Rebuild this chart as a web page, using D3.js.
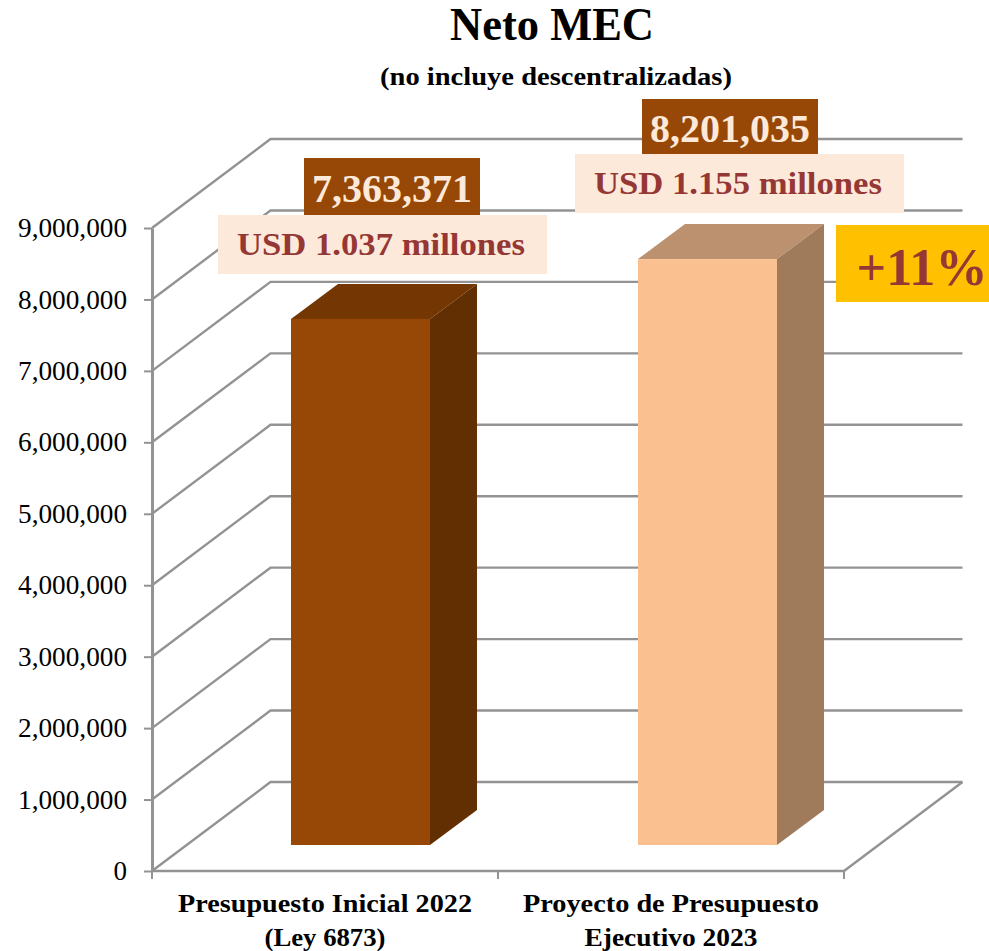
<!DOCTYPE html>
<html><head><meta charset="utf-8">
<script src="https://cdn.jsdelivr.net/npm/d3@7"></script>
<style>html,body{margin:0;padding:0;background:#fff}svg{display:block}text{font-family:"Liberation Serif",serif}</style>
</head><body><div id="c"></div>
<script>
const categories = [["Presupuesto Inicial 2022","(Ley 6873)"],["Proyecto de Presupuesto","Ejecutivo 2023"]];
const values = [7363371, 8201035];
const usdLabels = ["USD 1.037 millones","USD 1.155 millones"];
const valueLabels = ["7,363,371","8,201,035"];
const tickValues = [0,1e6,2e6,3e6,4e6,5e6,6e6,7e6,8e6,9e6];
const colors = [{front:"#974706",top:"#743602",side:"#622f03"},{front:"#fac090",top:"#bc916f",side:"#a07b5b"}];

const W=989,H=951;
const svg=d3.select("#c").append("svg").attr("width",W).attr("height",H);
const y=d3.scaleLinear().domain([0,9e6]).range([871,228]);
const x=d3.scaleBand().domain([0,1]).range([152,844]);
const barX=d3.scaleBand().domain([0,1]).range([152,846]);
const depthX=118.5, depthY=89, grey="#939393";

// grid: left wall diagonals + back wall, plus the floor's front edge
const g=svg.append("g");
const strokeLine=pts=>g.append("path").attr("d",d3.line()(pts)).attr("fill","none")
  .attr("stroke",grey).attr("stroke-width",2.4).attr("stroke-linejoin","miter");
tickValues.forEach(v=>{
  strokeLine([[152,y(v)],[152+depthX,y(v)-depthY],[844+depthX,y(v)-depthY]]);
});
strokeLine([[152,y(0)],[844,y(0)],[844+depthX,y(0)-depthY]]);

// y axis
const ya=svg.append("g").attr("transform","translate(152,0)").call(d3.axisLeft(y).tickValues(tickValues).tickFormat(d3.format(",")).tickSize(8).tickSizeOuter(0));
ya.select(".domain").attr("stroke",grey).attr("stroke-width",3);
ya.selectAll(".tick line").attr("stroke",grey).attr("stroke-width",2);
ya.selectAll(".tick text").attr("fill","#000").style("font-size","27px").attr("x",-25).attr("dy","0.32em")
  .each(function(d){ if(d) d3.select(this).attr("textLength",109).attr("lengthAdjust","spacingAndGlyphs"); });
// x axis ticks
svg.append("g").selectAll("line").data([152,498,844]).join("line")
  .attr("x1",d=>d).attr("x2",d=>d).attr("y1",871).attr("y2",879).attr("stroke",grey).attr("stroke-width",2);

// bars
const barW=139, baseOffX=35, baseOffY=26, bDX=47, bDY=35;
const bars=svg.append("g").selectAll("g").data(values).join("g");
bars.each(function(v,i){
  const s=d3.select(this), x0=barX(i)+barX.bandwidth()/2+baseOffX-barW/2, x1=x0+barW;
  const yb=y(0)-baseOffY, yt=y(v)-baseOffY, c=colors[i];
  s.append("polygon").attr("fill",c.top).attr("points",[[x0,yt],[x1,yt],[x1+bDX,yt-bDY],[x0+bDX,yt-bDY]].join(" "));
  s.append("polygon").attr("fill",c.side).attr("points",[[x1,yt],[x1+bDX,yt-bDY],[x1+bDX,yb-bDY],[x1,yb]].join(" "));
  s.append("rect").attr("x",x0).attr("y",yt).attr("width",barW).attr("height",yb-yt).attr("fill",c.front);
});

function label(t,cx,base,size,fill,len){
  const e=svg.append("text").text(t).attr("x",cx).attr("y",base).attr("text-anchor","middle")
    .attr("font-weight","bold").attr("font-size",size).attr("fill",fill);
  if(len) e.attr("textLength",len).attr("lengthAdjust","spacingAndGlyphs");
  return e;
}
// titles
label("Neto MEC",552,40,46,"#000",204);
label("(no incluye descentralizadas)",556,85,25,"#000",352);

// category labels
const catLens=[[294,121],[296,173]];
categories.forEach((ls,i)=>ls.forEach((l,j)=>
  label(l,x(i)+x.bandwidth()/2,912+j*34,26,"#000",catLens[i][j])));

// annotation boxes
const vBoxes=[[304,158,176,57,202],[642,99,176,55,142]];
const uBoxes=[[218,215,329,59],[575,154,329,59]];
values.forEach((v,i)=>{
  const [a,b,c,d]=uBoxes[i];
  svg.append("rect").attr("x",a).attr("y",b).attr("width",c).attr("height",d).attr("fill","#fde9d9");
  label(usdLabels[i],a+c/2-1.5,b+40,31,"#953735",288);
  const [e,f,g2,h,base]=vBoxes[i];
  svg.append("rect").attr("x",e).attr("y",f).attr("width",g2).attr("height",h).attr("fill","#974706");
  label(valueLabels[i],e+g2/2,base,40,"#fde9d9",160);
});
svg.append("rect").attr("x",836).attr("y",225).attr("width",153).attr("height",77).attr("fill","#ffc000");
label("+11%",922,285,52,"#953735",131);
</script></body></html>
